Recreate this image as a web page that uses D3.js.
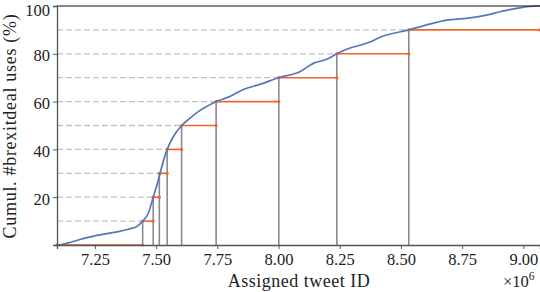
<!DOCTYPE html>
<html>
<head>
<meta charset="utf-8">
<script src="https://cdn.jsdelivr.net/npm/d3@7"></script>
<style>
  body { margin: 0; background: #fff; }
  text { font-family: "Liberation Serif", "DejaVu Serif", serif; fill: #222; }
</style>
</head>
<body>
<div id="wrapper"></div>
<script>
// cumulative share of #brexitdeal uses against assigned tweet id (millions)
const curveIds = [7.095, 7.100, 7.141, 7.182, 7.223, 7.263, 7.304, 7.345, 7.386, 7.420, 7.445,
  7.468, 7.488, 7.509, 7.516, 7.545, 7.570, 7.604, 7.638, 7.672, 7.706, 7.745, 7.801, 7.856,
  7.924, 8.001, 8.087, 8.142, 8.196, 8.238, 8.278, 8.373, 8.414, 8.532, 8.605, 8.687, 8.768,
  8.850, 8.904, 8.973, 9.054, 9.068];
const curvePct = [0, 0, 0.9, 2.1, 3.2, 4.1, 4.9, 5.6, 6.6, 7.7, 10,
  13.3, 20, 27.2, 30, 40, 45.3, 50, 53.0, 55.8, 57.9, 60, 62.1, 65.1,
  67.2, 70, 72.5, 76.0, 77.7, 80, 81.9, 84.9, 86.9, 90, 92.1, 94.1, 94.8,
  96.2, 97.6, 99.0, 100, 100];

// id at which each 10% step is reached
const stepLevels = [10, 20, 30, 40, 50, 60, 70, 80, 90];
const stepIds = [7.445, 7.488, 7.513, 7.545, 7.604, 7.745, 8.001, 8.238, 8.532];

const xTicks = [7.25, 7.50, 7.75, 8.00, 8.25, 8.50, 8.75, 9.00];
const yTicks = [20, 40, 60, 80, 100];
const xDomain = [7.095, 9.068];

const dimension = {
    width: 540,
    height: 292,
    margin: { top: 6, left: 57, bottom: 47, right: 0 }
};
dimension.boundedWidth = dimension.width - dimension.margin.left - dimension.margin.right;
dimension.boundedHeight = dimension.height - dimension.margin.top - dimension.margin.bottom;

const svg = d3.select("#wrapper")
    .append("svg")
    .attr("width", dimension.width)
    .attr("height", dimension.height);

const bounds = svg.append("g")
    .attr("transform", `translate(${dimension.margin.left},${dimension.margin.top})`);

const xScaler = d3.scaleLinear()
    .domain(xDomain)
    .range([0, dimension.boundedWidth]);

const yScaler = d3.scaleLinear()
    .domain([0, 100])
    .range([dimension.boundedHeight, 0]);

const orange = "#f4622c";
const steps = stepLevels.map((lvl, i) => ({ lvl, id: stepIds[i] }));

// dashed guides from the axis to the crossing point
bounds.append("g")
    .selectAll("line")
    .data(steps)
    .join("line")
    .attr("x1", 0)
    .attr("x2", d => xScaler(d.id))
    .attr("y1", d => yScaler(d.lvl))
    .attr("y2", d => yScaler(d.lvl))
    .attr("stroke", "#c2c2c2")
    .attr("stroke-width", 1.3)
    .attr("stroke-dasharray", "6 3");

// vertical drops
bounds.append("g")
    .selectAll("line")
    .data(steps)
    .join("line")
    .attr("x1", d => xScaler(d.id))
    .attr("x2", d => xScaler(d.id))
    .attr("y1", d => yScaler(d.lvl))
    .attr("y2", dimension.boundedHeight)
    .attr("stroke", "#8a8a8a")
    .attr("stroke-width", 1.6);

// orange horizontal segments between consecutive crossings
const segs = [{ lvl: 0, x0: xDomain[0], x1: stepIds[0] }].concat(
    steps.map((d, i) => ({ lvl: d.lvl, x0: d.id, x1: i + 1 < steps.length ? steps[i + 1].id : xDomain[1] }))
);
const segGroup = bounds.append("g");
segGroup.selectAll("line")
    .data(segs)
    .join("line")
    .attr("x1", d => xScaler(d.x0))
    .attr("x2", d => xScaler(d.x1))
    .attr("y1", d => yScaler(d.lvl))
    .attr("y2", d => yScaler(d.lvl))
    .attr("stroke", orange)
    .attr("stroke-width", 1.6);
segGroup.selectAll("circle")
    .data(segs.flatMap(d => [{ x: d.x0, lvl: d.lvl }, { x: d.x1, lvl: d.lvl }]))
    .join("circle")
    .attr("cx", d => xScaler(d.x))
    .attr("cy", d => yScaler(d.lvl))
    .attr("r", 1.6)
    .attr("fill", orange);

// cumulative curve
const line = d3.line()
    .x((d, i) => xScaler(curveIds[i]))
    .y(d => yScaler(d))
    .curve(d3.curveMonotoneX);
bounds.append("path")
    .datum(curvePct)
    .attr("d", line)
    .attr("fill", "none")
    .attr("stroke", "#5378ba")
    .attr("stroke-width", 1.7);

// top line at 100
bounds.append("line")
    .attr("x1", 0)
    .attr("x2", dimension.boundedWidth)
    .attr("y1", yScaler(100))
    .attr("y2", yScaler(100))
    .attr("stroke", "#111")
    .attr("stroke-width", 1.2);

// axes
const xAxisGen = d3.axisBottom(xScaler)
    .tickValues(xTicks)
    .tickFormat(d3.format(".2f"))
    .tickSize(4)
    .tickPadding(4);
const xAxis = bounds.append("g")
    .attr("transform", `translate(0,${dimension.boundedHeight})`)
    .call(xAxisGen);

const yAxisGen = d3.axisLeft(yScaler)
    .tickValues(yTicks)
    .tickSize(4)
    .tickPadding(3);
const yAxis = bounds.append("g")
    .call(yAxisGen);

[xAxis, yAxis].forEach(ax => {
    ax.select(".domain").attr("stroke", "#555").attr("stroke-width", 1.3);
    ax.selectAll(".tick line").attr("stroke", "#555").attr("stroke-width", 1);
    ax.selectAll(".tick text")
        .attr("font-family", "Liberation Serif")
        .attr("font-size", "16.5px")
        .attr("fill", "#222");
});
// keep the top label inside the page
yAxis.selectAll(".tick text").attr("dy", d => d === 100 ? "0.56em" : "0.42em");

// labels
svg.append("text")
    .attr("x", 299)
    .attr("y", 287)
    .attr("text-anchor", "middle")
    .attr("font-size", "18px")
    .attr("letter-spacing", "0.5px")
    .text("Assigned tweet ID");

svg.append("text")
    .attr("transform", "translate(16,126) rotate(-90)")
    .attr("text-anchor", "middle")
    .attr("font-size", "18px")
    .attr("letter-spacing", "0.7px")
    .text("Cumul. #brexitdeal uses (%)");

const mult = svg.append("text")
    .attr("x", 503)
    .attr("y", 287)
    .attr("font-size", "16.5px");
mult.append("tspan").text("×10");
mult.append("tspan").attr("dy", -7).attr("font-size", "11.5px").text("6");
</script>
</body>
</html>
